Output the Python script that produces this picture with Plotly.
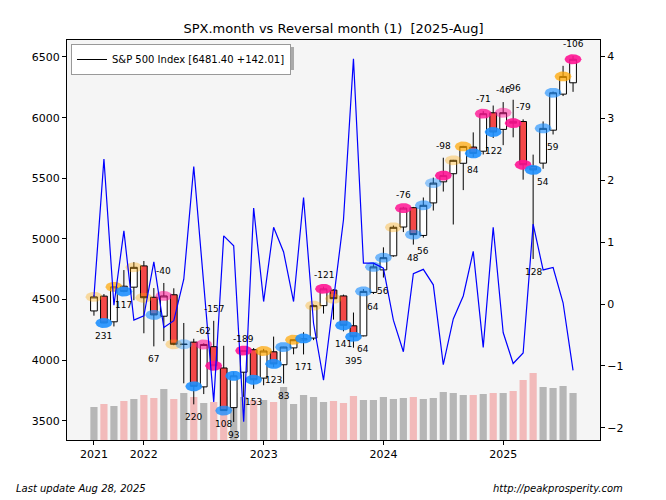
import numpy as np
import plotly.graph_objects as go

# ---------------- data ----------------
months = ["2021-08", "2021-09", "2021-10", "2021-11", "2021-12",
          "2022-01", "2022-02", "2022-03", "2022-04", "2022-05", "2022-06",
          "2022-07", "2022-08", "2022-09", "2022-10", "2022-11", "2022-12",
          "2023-01", "2023-02", "2023-03", "2023-04", "2023-05", "2023-06",
          "2023-07", "2023-08", "2023-09", "2023-10", "2023-11", "2023-12",
          "2024-01", "2024-02", "2024-03", "2024-04", "2024-05", "2024-06",
          "2024-07", "2024-08", "2024-09", "2024-10", "2024-11", "2024-12",
          "2025-01", "2025-02", "2025-03", "2025-04", "2025-05", "2025-06",
          "2025-07", "2025-08"]

opens = [4406.86, 4528.80, 4317.16, 4610.62, 4602.82,
         4778.14, 4519.57, 4363.14, 4540.32, 4130.61, 4149.78,
         3781.00, 4112.38, 3936.73, 3609.78, 3901.79, 4087.14,
         3853.29, 4070.07, 3963.34, 4102.20, 4166.79, 4183.03,
         4450.48, 4578.83, 4530.60, 4284.52, 4201.27, 4559.43,
         4745.20, 4861.11, 5098.51, 5257.97, 5029.03, 5297.15,
         5471.08, 5537.84, 5623.89, 5757.73, 5723.22, 6040.11,
         5903.26, 5969.65, 5968.33, 5597.53, 5625.14, 5896.68,
         6193.84, 6287.28]
highs = [4537.36, 4545.85, 4608.08, 4743.83, 4808.93,
         4818.62, 4595.31, 4637.30, 4593.45, 4307.66, 4177.51,
         4140.15, 4325.28, 4119.28, 3905.42, 4080.11, 4100.96,
         4094.21, 4195.44, 4110.75, 4170.06, 4231.10, 4458.48,
         4607.07, 4584.62, 4541.25, 4393.57, 4587.64, 4793.30,
         4931.09, 5111.06, 5264.85, 5263.95, 5341.88, 5505.53,
         5669.67, 5651.62, 5767.37, 5878.46, 6053.58, 6099.97,
         6128.18, 6147.43, 5986.09, 5695.31, 5968.61, 6215.08,
         6427.02, 6508.23]
lows = [4367.73, 4305.91, 4278.94, 4560.00, 4495.12,
        4222.62, 4114.65, 4157.87, 4124.28, 3810.32, 3636.87,
        3721.56, 3954.53, 3584.13, 3491.58, 3698.15, 3764.49,
        3794.33, 3943.08, 3808.86, 4049.35, 4048.28, 4166.15,
        4385.05, 4335.31, 4238.63, 4103.78, 4197.74, 4546.50,
        4682.11, 4853.52, 5056.82, 4953.56, 5011.05, 5234.32,
        5390.95, 5119.26, 5402.62, 5674.00, 5696.51, 5832.30,
        5773.31, 5837.66, 5488.73, 4835.04, 5578.64, 5861.43,
        6177.97, 6212.69]
closes = [4522.68, 4307.54, 4605.38, 4567.00, 4766.18,
          4515.55, 4373.94, 4530.41, 4131.93, 4132.15, 3785.38,
          4130.29, 3955.00, 3585.62, 3871.98, 4080.11, 3839.50,
          4076.60, 3970.15, 4109.31, 4169.48, 4179.83, 4450.38,
          4588.96, 4507.66, 4288.05, 4193.80, 4567.80, 4769.83,
          4845.65, 5096.27, 5254.35, 5035.69, 5277.51, 5460.48,
          5522.30, 5648.40, 5762.48, 5705.45, 6032.38, 5881.63,
          6040.53, 5954.50, 5611.85, 5569.06, 5911.69, 6204.95,
          6339.39, 6481.40]

# monthly volume (billions of shares)
volume_bn = [49.5, 54, 51, 58.5, 61.5,
             67.5, 63, 76.5, 61.5, 70.5, 64.5,
             55.5, 57, 64.5, 70.5, 64.5, 60,
             60, 57, 79.5, 54, 67.5, 64.5,
             57, 58.5, 55.5, 66, 60, 60,
             64.5, 61.5, 63, 64.5, 61.5, 63,
             72, 70.5, 67.5, 67.5, 69, 70.5,
             70.5, 73.5, 90, 100.5, 79.5, 78,
             81, 70.5]

# reversal-month indicator (right axis)
reversal = [0.12, 2.34, -0.02, 1.18, -0.26,
            -0.19, 0.68, -0.38, -0.27, 0.40, 2.22,
            0.32, -1.58, 1.10, 0.94, -1.90, 1.55,
            0.04, 1.24, 0.84, 0.04, 1.72, -0.31,
            -1.23, 0.10, 1.36, 3.96, 0.66, 0.66,
            0.58, -0.26, -0.77, 0.49, 0.56, 0.31,
            -0.98, -0.24, 0.13, 0.85, -0.70, 1.24,
            -0.46, -0.96, -0.79, 1.29, 0.55, 0.59,
            0.02, -1.07]

# reversal counts printed near candles (None = no label)
rev_labels = [None, 231, None, 117, None,
              None, 67, -40, None, None, 220,
              -62, -157, 108, 93, -189, 153,
              None, 123, 83, None, 171, None,
              -121, None, 141, 395, 64, 64,
              56, None, -76, 48, 56, None,
              -98, None, None, 84, -71, 122,
              -46, -96, -79, 128, 54, 59,
              None, -106]

# reversal signal type (b = low reversal, p = high reversal, o = neutral) and strength
signal_kind = ["o", "b", "o", "b", "o",
               "o", "b", "p", "o", "b", "b",
               "p", "p", "b", "b", "p", "b",
               "o", "b", "b", "o", "b", "o",
               "p", "o", "b", "b", "b", "b",
               "b", "o", "p", "b", "b", "b",
               "p", "o", "o", "b", "p", "b",
               "p", "p", "p", "b", "b", "b",
               "o", "p"]
signal_strength = [0.35, 0.9, 0.7, 0.9, 0.35,
                   0.35, 0.65, 0.55, 0.35, 0.4, 0.9,
                   0.6, 0.9, 0.8, 0.9, 0.9, 0.9,
                   0.7, 0.9, 0.7, 0.7, 0.9, 0.35,
                   0.9, 0.35, 0.9, 0.9, 0.65, 0.6,
                   0.6, 0.35, 0.85, 0.6, 0.6, 0.45,
                   0.9, 0.35, 0.7, 0.9, 0.8, 0.9,
                   0.5, 0.9, 0.9, 0.9, 0.65, 0.65,
                   0.75, 0.9]

year_tick_idx = [0, 5, 17, 29, 41]
year_tick_text = ["2021", "2022", "2023", "2024", "2025"]
price_ticks = [3500, 4000, 4500, 5000, 5500, 6000, 6500]

# ---------------- figure ----------------
FONT = "DejaVu Sans"
x = list(range(len(months)))
price_range = [3343, 6640]
rev_range = [-2.195, 4.262]
plot_h_px = 400.0
kind_rgb = {"b": (30, 144, 255), "p": (255, 20, 147), "o": (255, 165, 0)}

fig = go.Figure()

# volume bars (main hidden axis, drawn first)
vol_colors = ["rgba(240,128,128,0.5)" if c < o else "rgba(140,140,140,0.6)"
              for o, c in zip(opens, closes)]
fig.add_trace(go.Bar(x=x, y=volume_bn, marker=dict(color=vol_colors, line=dict(width=0)),
                     width=0.72, yaxis="y", showlegend=False, hoverinfo="skip"))

# candlesticks
fig.add_trace(go.Candlestick(
    x=x, open=opens, high=highs, low=lows, close=closes,
    increasing=dict(fillcolor="white", line=dict(color="black", width=1)),
    decreasing=dict(fillcolor="#f44848", line=dict(color="black", width=1)),
    whiskerwidth=0, yaxis="y2", showlegend=False, hoverinfo="skip"))

# reversal ellipses at the close
t = np.linspace(0, 2 * np.pi, 40)
a_x = 0.84
b_y = 5.0 * (price_range[1] - price_range[0]) / plot_h_px
for i, (c, k, s) in enumerate(zip(closes, signal_kind, signal_strength)):
    r, g, b = kind_rgb[k]
    fig.add_trace(go.Scatter(
        x=i + a_x * np.cos(t), y=c + b_y * np.sin(t), mode="lines",
        fill="toself", fillcolor=f"rgba({r},{g},{b},{s})", line=dict(width=0),
        yaxis="y2", showlegend=False, hoverinfo="skip"))

# indicator line (right axis)
fig.add_trace(go.Scatter(x=x, y=reversal, mode="lines", line=dict(color="#0000ff", width=1.2),
                         yaxis="y3", showlegend=False, hoverinfo="skip"))

# legend entry
last_chg = closes[-1] - closes[-2]
fig.add_trace(go.Scatter(x=[None], y=[None], mode="lines", line=dict(color="black", width=1),
                         name=f"S&P 500 Index [{closes[-1]:.2f} {last_chg:+.2f}]", yaxis="y2"))

annotations = []
for i, v in enumerate(rev_labels):
    if v is None:
        continue
    if v > 0:
        annotations.append(dict(x=i, y=lows[i], xref="x", yref="y2", text=str(v), showarrow=False,
                                yshift=-13, font=dict(family=FONT, size=9, color="black")))
    else:
        annotations.append(dict(x=i, y=highs[i], xref="x", yref="y2", text=str(v), showarrow=False,
                                yshift=12, font=dict(family=FONT, size=9, color="black")))

annotations.append(dict(x=-0.0994, y=-0.12, xref="paper", yref="paper", xanchor="left",
                        yanchor="middle", showarrow=False, text="<i>Last update Aug 28, 2025</i>",
                        font=dict(family=FONT, size=10, color="black")))
annotations.append(dict(x=1.047, y=-0.12, xref="paper", yref="paper", xanchor="right",
                        yanchor="middle", showarrow=False, text="<i>http://peakprosperity.com</i>",
                        font=dict(family=FONT, size=10, color="black")))

axis_common = dict(showgrid=False, zeroline=False, ticks="outside", ticklen=4, tickcolor="black",
                   linecolor="black", linewidth=1, showline=True,
                   tickfont=dict(family=FONT, size=11, color="black"))

# legend drop shadow (paper coords, offset a few pixels from the legend box)
shapes = [dict(type="rect", xref="paper", yref="paper", layer="above",
               x0=(76 - 67) / 533, x1=(294 - 67) / 533,
               y0=(440 - 70) / 400, y1=(440 - 47) / 400,
               fillcolor="rgba(120,120,120,0.6)", line=dict(width=0))]

fig.update_layout(
    width=666, height=500,
    margin=dict(l=67, r=66, t=40, b=60),
    paper_bgcolor="white", plot_bgcolor="#f5f5f5",
    title=dict(text="SPX.month vs Reversal month (1) \u00a0[2025-Aug]", x=0.5, xref="paper",
               y=1 - 28 / 500, yref="container", xanchor="center", yanchor="middle",
               font=dict(family=FONT, size=13, color="black")),
    xaxis=dict(range=[-2.7, 50.7], tickvals=year_tick_idx, ticktext=year_tick_text,
               mirror=True, rangeslider=dict(visible=False), **axis_common),
    yaxis=dict(range=[0, 600], visible=False, showgrid=False, zeroline=False),
    yaxis2=dict(range=price_range, overlaying="y", side="left", tickvals=price_ticks, **axis_common),
    yaxis3=dict(range=rev_range, overlaying="y", side="right", dtick=1, tick0=0, **axis_common),
    showlegend=True,
    legend=dict(x=0.0075, y=0.99, xanchor="left", yanchor="top", bgcolor="white",
                bordercolor="#999999", borderwidth=1, itemwidth=30,
                font=dict(family=FONT, size=10, color="black")),
    annotations=annotations,
    shapes=shapes,
    bargap=0.3,
    boxgap=0.25,
    boxgroupgap=0.1,
)

fig.write_html("out.html")
